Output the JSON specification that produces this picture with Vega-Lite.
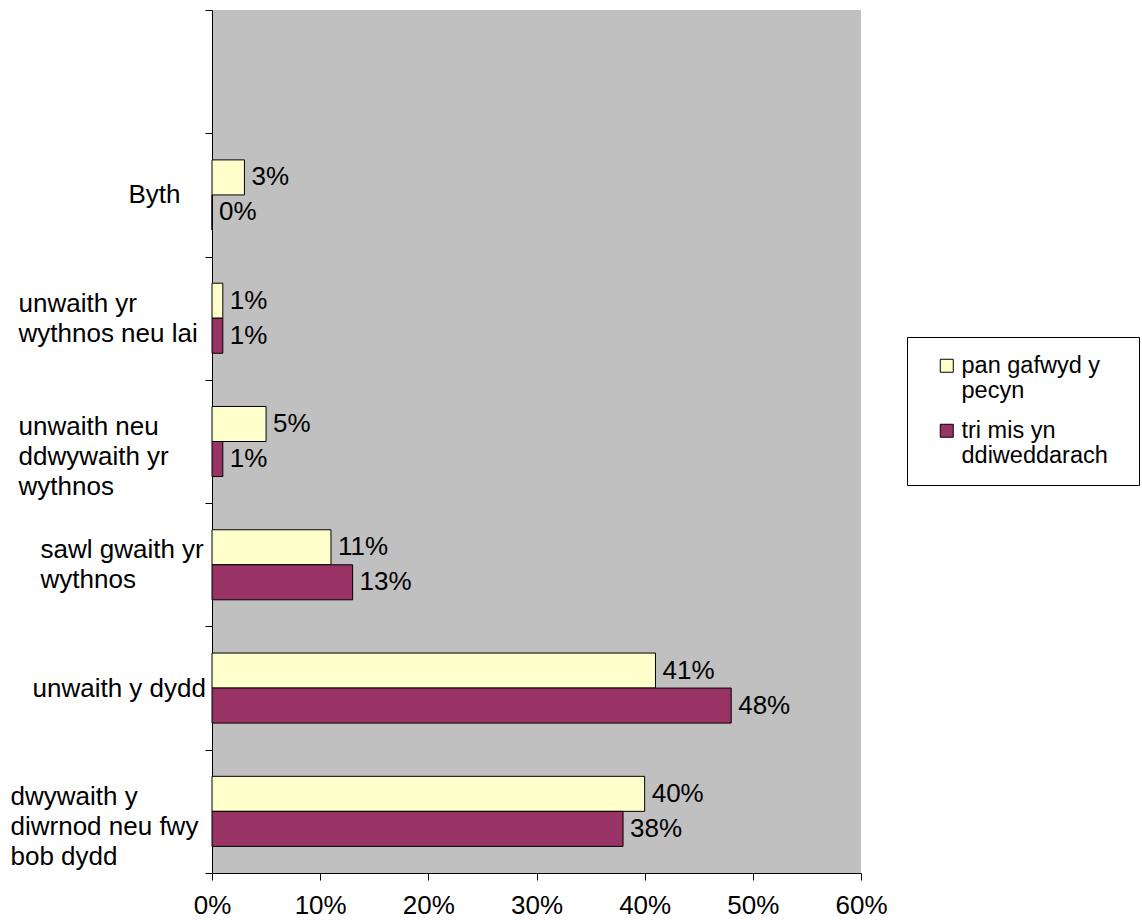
{
  "$schema": "https://vega.github.io/schema/vega-lite/v6.json",
  "autosize": {"type": "none"},
  "padding": {"left": 212, "top": 10, "right": 281, "bottom": 48},
  "width": 649,
  "height": 863,
  "background": "white",
  "config": {
    "font": "Liberation Sans",
    "view": {"fill": "#C0C0C0", "stroke": null}
  },
  "data": {
    "values": [
      {"category": "Byth", "series": "pan gafwyd y pecyn", "value": 0.03},
      {"category": "Byth", "series": "tri mis yn ddiweddarach", "value": 0.0},
      {"category": "unwaith yr wythnos neu lai", "series": "pan gafwyd y pecyn", "value": 0.01},
      {"category": "unwaith yr wythnos neu lai", "series": "tri mis yn ddiweddarach", "value": 0.01},
      {"category": "unwaith neu ddwywaith yr wythnos", "series": "pan gafwyd y pecyn", "value": 0.05},
      {"category": "unwaith neu ddwywaith yr wythnos", "series": "tri mis yn ddiweddarach", "value": 0.01},
      {"category": "sawl gwaith yr wythnos", "series": "pan gafwyd y pecyn", "value": 0.11},
      {"category": "sawl gwaith yr wythnos", "series": "tri mis yn ddiweddarach", "value": 0.13},
      {"category": "unwaith y dydd", "series": "pan gafwyd y pecyn", "value": 0.41},
      {"category": "unwaith y dydd", "series": "tri mis yn ddiweddarach", "value": 0.48},
      {"category": "dwywaith y diwrnod neu fwy bob dydd", "series": "pan gafwyd y pecyn", "value": 0.40},
      {"category": "dwywaith y diwrnod neu fwy bob dydd", "series": "tri mis yn ddiweddarach", "value": 0.38}
    ]
  },
  "encoding": {
    "y": {
      "field": "category",
      "type": "nominal",
      "scale": {
        "domain": ["", "Byth", "unwaith yr wythnos neu lai", "unwaith neu ddwywaith yr wythnos", "sawl gwaith yr wythnos", "unwaith y dydd", "dwywaith y diwrnod neu fwy bob dydd"],
        "paddingInner": 0,
        "paddingOuter": 0
      },
      "axis": {
        "title": null,
        "tickBand": "extent",
        "domainColor": "black",
        "tickColor": "black",
        "tickSize": 7,
        "labelColor": "black",
        "labelFontSize": 26,
        "labelLineHeight": 30,
        "labelLimit": 400,
        "labelAlign": "left",
        "labelPadding": {"condition": [
          {"test": "datum.value == 'Byth'", "value": 77},
          {"test": "datum.value == 'sawl gwaith yr wythnos'", "value": 165},
          {"test": "datum.value == 'unwaith y dydd'", "value": 173},
          {"test": "datum.value == 'dwywaith y diwrnod neu fwy bob dydd'", "value": 195}
        ], "value": 187},
        "labelOffset": {"condition": {"test": "datum.value == 'Byth' || datum.value == 'unwaith y dydd'", "value": 0}, "value": -15},
        "labelExpr": "datum.label == 'unwaith yr wythnos neu lai' ? ['unwaith yr', 'wythnos neu lai'] : datum.label == 'unwaith neu ddwywaith yr wythnos' ? ['unwaith neu', 'ddwywaith yr', 'wythnos'] : datum.label == 'sawl gwaith yr wythnos' ? ['sawl gwaith yr', 'wythnos'] : datum.label == 'dwywaith y diwrnod neu fwy bob dydd' ? ['dwywaith y', 'diwrnod neu fwy', 'bob dydd'] : datum.label"
      }
    },
    "yOffset": {
      "field": "series",
      "type": "nominal",
      "scale": {"domain": ["pan gafwyd y pecyn", "tri mis yn ddiweddarach"], "paddingInner": 0, "paddingOuter": 0.76}
    },
    "x": {
      "field": "value",
      "type": "quantitative",
      "scale": {"domain": [0, 0.6], "nice": false},
      "axis": {
        "title": null,
        "format": ".0%",
        "values": [0, 0.1, 0.2, 0.3, 0.4, 0.5, 0.6],
        "grid": false,
        "domainColor": "black",
        "tickColor": "black",
        "tickSize": 7,
        "labelColor": "black",
        "labelFontSize": 26,
        "labelPadding": 12,
        "labelFlush": false
      }
    }
  },
  "layer": [
    {
      "mark": {"type": "bar", "stroke": "black", "strokeWidth": 1},
      "encoding": {
        "color": {
          "field": "series",
          "type": "nominal",
          "scale": {"domain": ["pan gafwyd y pecyn", "tri mis yn ddiweddarach"], "range": ["#FFFFCC", "#993366"]},
          "legend": {
            "title": "\u00a0",
            "titleOrient": "right",
            "titleFontSize": 1,
            "titlePadding": 14,
            "orient": "none",
            "legendX": 695,
            "legendY": 327,
            "fillColor": "white",
            "strokeColor": "black",
            "padding": 17,
            "symbolType": "square",
            "symbolSize": 169,
            "symbolStrokeColor": "black",
            "symbolStrokeWidth": 1,
            "symbolOffset": 11,
            "labelOffset": 3,
            "labelFontSize": 23.5,
            "labelLineHeight": 27,
            "labelColor": "black",
            "labelLimit": 400,
            "rowPadding": 15,
            "labelExpr": "datum.label == 'pan gafwyd y pecyn' ? ['pan gafwyd y', 'pecyn'] : ['tri mis yn', 'ddiweddarach']"
          }
        }
      }
    },
    {
      "mark": {"type": "text", "align": "left", "baseline": "middle", "dx": 7, "fontSize": 26, "color": "black"},
      "encoding": {
        "text": {"field": "value", "type": "quantitative", "format": ".0%"}
      }
    }
  ]
}
